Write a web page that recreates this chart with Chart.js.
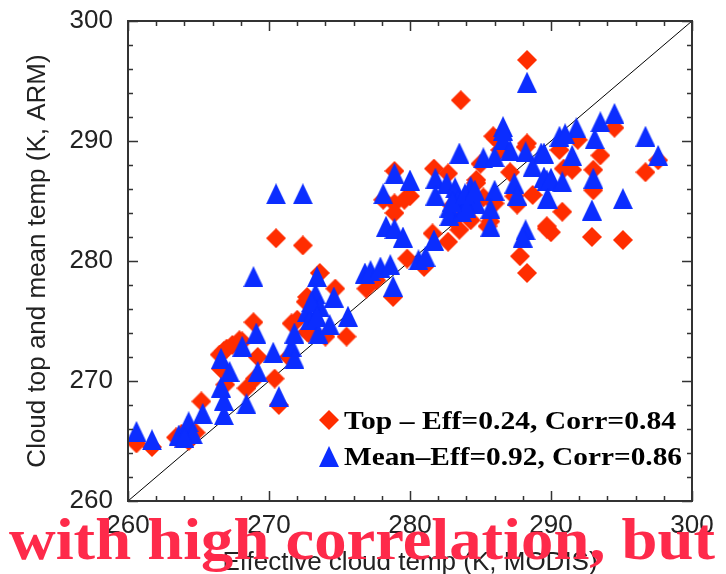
<!DOCTYPE html>
<html>
<head>
<meta charset="utf-8">
<script src="https://cdn.jsdelivr.net/npm/chart.js@4/dist/chart.umd.min.js"></script>
<style>
  html, body { margin: 0; padding: 0; background: #fff; }
  #wrap { width: 726px; height: 574px; position: relative; }
</style>
</head>
<body>
<div id="wrap"><canvas id="scatter"></canvas></div>
<script>
// cloud top (ARM) vs effective cloud temp (MODIS), in K
const topPoints = [
  [260.6,264.8],[261.7,264.5],[263.4,265.3],[263.8,265.6],[264.3,265.0],[264.8,265.7],
  [265.2,268.3],[266.5,272.2],[266.8,272.5],[267.0,272.7],[267.4,273.0],[267.9,273.4],[268.1,273.3],
  [268.9,274.9],[269.2,272.0],[268.4,269.4],[269.0,270.2],[270.4,270.2],[270.7,268.0],[266.9,269.7],[266.6,271.0],
  [271.6,274.8],[271.4,272.0],[272.0,275.1],[272.7,274.1],[272.6,276.6],[272.8,274.0],[273.6,279.0],[274.0,273.7],
  [274.7,277.7],[275.5,273.7],[270.5,281.9],[272.4,281.3],[272.7,277.0],[276.9,277.7],[277.6,278.4],[278.8,277.0],
  [279.8,280.2],[281.0,279.5],[278.1,285.1],[278.9,284.8],[278.9,284.0],[278.9,287.5],[279.6,285.1],[280.0,285.4],
  [281.7,287.7],[282.7,287.3],[284.7,286.75],[285.0,288.1],[285.9,290.4],[286.4,289.25],[288.3,289.8],[286.1,290.2],[287.1,287.4],
  [288.7,285.5],[287.6,284.7],[287.4,285.4],[281.6,282.3],[282.7,281.6],[283.5,282.6],[284.3,283.4],[283.1,283.4],[284.0,284.0],[284.4,284.5],
  [285.7,283.3],[285.5,282.9],[287.8,280.4],[288.3,279.0],[289.7,282.7],[288.3,296.75],[283.6,293.4],
  [294.5,291.1],[291.9,290.1],[290.6,289.25],[293.5,288.8],[297.6,288.4],[296.7,287.4],[291.5,287.6],[290.9,287.7],
  [293.0,287.6],[293.0,285.9],[290.8,284.1],[290.0,282.4],[289.7,282.9],[292.9,282.0],[295.1,281.75],[288.2,289.5],[284.7,286.5],
  [283.0,284.6],[285.2,285.3],[286.0,284.8]
];

// cloud mean temp (ARM) vs effective cloud temp (MODIS), in K
const meanPoints = [
  [260.6,265.8],[261.7,265.1],[263.6,265.5],[264.2,266.2],[264.3,266.6],[264.6,265.6],[264.0,265.3],
  [265.3,267.3],[266.8,267.2],[266.8,268.4],[266.6,269.5],[266.6,271.9],[267.2,270.8],[268.1,272.9],[268.4,268.1],
  [269.1,274.0],[269.2,270.8],[270.3,272.4],[270.7,268.7],[271.6,272.9],[271.8,274.0],[271.8,271.9],
  [268.9,278.7],[270.5,285.6],[272.4,285.6],[273.4,278.7],[273.3,277.3],[273.6,276.2],[272.7,275.8],[272.9,275.1],
  [273.5,274.0],[274.6,277.0],[274.3,274.7],[275.6,275.4],[273.0,276.6],[273.4,275.4],
  [276.8,279.0],[277.2,279.2],[277.9,279.5],[278.6,279.7],[278.8,277.9],
  [278.1,285.6],[278.9,287.3],[280.0,286.75],[278.3,282.9],[278.9,282.7],[279.5,282.0],
  [280.6,280.1],[281.1,280.4],[281.7,281.75],
  [281.8,286.9],[281.8,285.5],[282.6,286.5],[283.2,286.1],[283.4,285.1],[282.8,284.5],[282.8,283.8],[283.7,284.1],
  [284.3,286.2],[284.4,285.2],[284.7,284.8],[284.0,284.5],[283.0,285.0],[283.9,285.6],[284.6,285.9],
  [283.5,289.0],[285.2,288.6],[286.0,288.7],[286.6,291.2],[286.6,290.1],[286.6,290.9],[287.1,289.25],[288.2,289.1],[289.3,289.0],[288.7,287.9],
  [286.0,285.9],[285.7,284.4],[285.7,282.9],[287.4,286.5],[287.6,285.5],[288.2,282.6],[288.0,282.0],[289.7,286.75],[289.7,285.2],
  [288.3,294.9],[294.5,292.3],[293.5,291.6],[291.8,291.1],[290.6,290.4],[291.0,290.6],[293.1,290.2],[296.7,290.4],[297.6,288.8],
  [291.5,288.8],[289.5,289.0],[289.5,287.0],[290.0,286.9],[290.8,286.6],[289.8,285.2],[293.0,286.9],[292.9,284.25],[295.1,285.2]
];

const axisRange = [260, 300];
const majorStep = 10;
const minorStep = 2;
const legendLabels = ['Top \u2013 Eff=0.24, Corr=0.84', 'Mean\u2013Eff=0.92, Corr=0.86'];
const xTitle = 'Effective cloud temp (K, MODIS)';
const yTitle = 'Cloud top and mean temp (K, ARM)';
const caption = 'with high correlation, but';

const RED = '#ff2d00';
const BLUE = '#0b2dff';

// small bitmaps used as point styles (slightly taller than wide)
function markerImage(kind, color) {
  const c = document.createElement('canvas');
  c.width = 20; c.height = kind === 'tri' ? 21 : 20;
  const g = c.getContext('2d');
  g.fillStyle = color;
  g.beginPath();
  if (kind === 'tri') {
    g.moveTo(10, 0); g.lineTo(20, 21); g.lineTo(0, 21);
  } else {
    g.moveTo(10, 0); g.lineTo(20, 10); g.lineTo(10, 20); g.lineTo(0, 10);
  }
  g.closePath();
  g.fill();
  return c;
}
const diamond = markerImage('dia', RED);
const triangle = markerImage('tri', BLUE);

const toXY = p => ({ x: p[0], y: p[1] });

// keep the plot box exactly where the layout padding puts it
function noEdgePadding(scale) {
  scale.paddingTop = 0; scale.paddingBottom = 0;
  scale.paddingLeft = 0; scale.paddingRight = 0;
}

const decorations = {
  id: 'decorations',
  afterDatasetsDraw(chart) {
    const ctx = chart.ctx;
    const a = chart.chartArea;
    const xs = chart.scales.x, ys = chart.scales.y;
    ctx.save();
    ctx.strokeStyle = '#333';
    ctx.lineWidth = 2;
    ctx.strokeRect(a.left, a.top, a.right - a.left, a.bottom - a.top);
    ctx.lineWidth = 1.5;
    ctx.beginPath();
    for (let v = axisRange[0]; v <= axisRange[1]; v += minorStep) {
      const len = v % majorStep === 0 ? 10 : 5;
      const px = Math.round(xs.getPixelForValue(v)) + 0.5;
      const py = Math.round(ys.getPixelForValue(v)) + 0.5;
      ctx.moveTo(px, a.bottom); ctx.lineTo(px, a.bottom - len);
      ctx.moveTo(px, a.top); ctx.lineTo(px, a.top + len);
      ctx.moveTo(a.left, py); ctx.lineTo(a.left + len, py);
      ctx.moveTo(a.right, py); ctx.lineTo(a.right - len, py);
    }
    ctx.stroke();
    ctx.restore();
  },
  afterDraw(chart) {
    const ctx = chart.ctx;
    const a = chart.chartArea;
    ctx.save();

    // legend inside the plot
    ctx.drawImage(diamond, 319, 410);
    ctx.drawImage(triangle, 319, 446);
    ctx.fillStyle = '#000';
    ctx.font = 'bold 26px "Liberation Serif", "Times New Roman", serif';
    ctx.textBaseline = 'alphabetic';
    const rows = [[legendLabels[0], 429, 332], [legendLabels[1], 465, 338]];
    rows.forEach(([txt, base, w]) => {
      const m = ctx.measureText(txt).width;
      ctx.save();
      ctx.translate(344, base);
      ctx.scale(w / m, 1);
      ctx.fillText(txt, 0, 0);
      ctx.restore();
    });

    // axis titles
    ctx.fillStyle = '#222';
    ctx.font = '26px "Liberation Sans", Arial, sans-serif';
    ctx.textAlign = 'center';
    ctx.fillText(xTitle, 410, 570);
    ctx.save();
    ctx.translate(45, (a.top + a.bottom) / 2);
    ctx.rotate(-Math.PI / 2);
    ctx.fillText(yTitle, 0, 0);
    ctx.restore();

    // overlaid caption
    ctx.fillStyle = '#fe2a4a';
    ctx.font = 'bold 60px "Liberation Serif", "Times New Roman", serif';
    ctx.textAlign = 'left';
    const cw = ctx.measureText(caption).width;
    ctx.save();
    ctx.translate(9, 559);
    ctx.scale(706 / cw, 1);
    ctx.fillText(caption, 0, 0);
    ctx.restore();

    ctx.restore();
  }
};

const tickFont = { family: '"Liberation Sans", Arial, sans-serif', size: 26 };
const majorOnly = v => (v % majorStep === 0 ? String(v) : '');

new Chart(document.getElementById('scatter'), {
  type: 'scatter',
  data: {
    datasets: [
      {
        label: 'Mean',
        data: meanPoints.map(toXY),
        pointStyle: triangle,
        pointRadius: 10,
        order: 1
      },
      {
        label: 'Top',
        data: topPoints.map(toXY),
        pointStyle: diamond,
        pointRadius: 10,
        order: 2
      },
      {
        type: 'line',
        label: '1:1',
        data: [{ x: axisRange[0], y: axisRange[0] }, { x: axisRange[1], y: axisRange[1] }],
        borderColor: '#000',
        borderWidth: 1,
        pointRadius: 0,
        order: 3
      }
    ]
  },
  options: {
    responsive: true,
    maintainAspectRatio: false,
    animation: false,
    events: [],
    layout: { padding: { top: 21, right: 34, left: 0, bottom: 0 } },
    plugins: { legend: { display: false }, tooltip: { enabled: false } },
    scales: {
      x: {
        type: 'linear',
        min: axisRange[0], max: axisRange[1],
        afterFit(scale) { scale.height = 73; noEdgePadding(scale); },
        grid: { display: false, drawTicks: false },
        border: { display: false },
        ticks: {
          stepSize: minorStep, autoSkip: false, maxRotation: 0,
          padding: 9, color: '#222', font: tickFont, callback: majorOnly
        }
      },
      y: {
        type: 'linear',
        min: axisRange[0], max: axisRange[1],
        afterFit(scale) { scale.width = 128; noEdgePadding(scale); },
        grid: { display: false, drawTicks: false },
        border: { display: false },
        ticks: {
          stepSize: minorStep, autoSkip: false,
          padding: 15, color: '#222', font: tickFont, callback: majorOnly
        }
      }
    }
  },
  plugins: [decorations]
});
</script>
</body>
</html>
